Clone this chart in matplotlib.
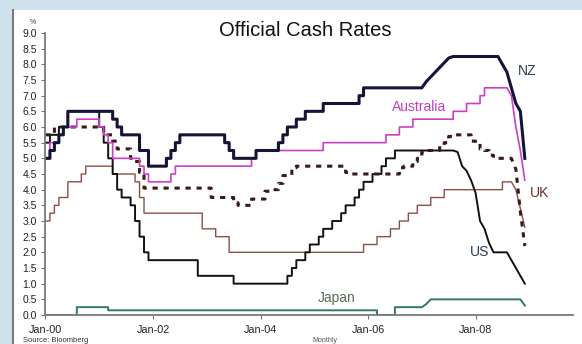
import numpy as np
import pandas as pd
import matplotlib
matplotlib.use('Agg')
import matplotlib.pyplot as plt
from matplotlib.patches import Rectangle
from matplotlib.lines import Line2D

plt.rcParams['font.family'] = ['Liberation Sans', 'DejaVu Sans']

# month index 0 = Jan 2000, data runs to Dec 2008 (monthly)
n_months = 108
tick_months = [0, 24, 48, 72, 96]
tick_labels = ['Jan-00', 'Jan-02', 'Jan-04', 'Jan-06', 'Jan-08']

# rate changes: month index -> rate (%)
nz_m = [0, 1, 2, 3, 4, 5, 14, 15, 16, 17, 21, 23, 27, 28, 29, 30, 40, 41, 42,
        47, 52, 53, 54, 56, 58, 62, 70, 71, 85, 86, 87, 88, 89, 90, 91,
        102, 103, 104, 105, 106, 107]
nz_r = [5.0, 5.25, 5.5, 5.75, 6.0, 6.5, 6.5, 6.25, 6.0, 5.75, 5.25, 4.75, 5.0, 5.25, 5.5, 5.75, 5.5, 5.25, 5.0,
        5.25, 5.5, 5.75, 6.0, 6.25, 6.5, 6.75, 7.0, 7.25, 7.45, 7.6, 7.75, 7.9, 8.05, 8.2, 8.25,
        8.0, 7.75, 7.25, 6.75, 6.5, 5.0]

au_m = [0, 1, 3, 4, 7, 12, 13, 14, 15, 21, 22, 23, 28, 29, 46, 47, 62, 76, 79, 82,
        91, 94, 97, 98, 104, 105, 106, 107]
au_r = [5.0, 5.5, 5.75, 6.0, 6.25, 6.0, 5.75, 5.5, 5.0, 4.75, 4.5, 4.25, 4.5, 4.75, 5.0, 5.25, 5.5, 5.75, 6.0, 6.25,
        6.5, 6.75, 7.0, 7.25, 7.0, 6.0, 5.25, 4.3]

us_m = [0, 1, 3, 5, 12, 13, 14, 15, 16, 17, 19, 20, 21, 22, 23, 34, 42,
        54, 55, 56, 58, 59, 61, 62, 64, 66, 67, 69, 70, 71, 73, 75, 76, 78,
        92, 93, 94, 95, 96, 97, 98, 99, 100, 104, 105, 106, 107]
us_r = [5.5, 5.75, 6.0, 6.5, 6.0, 5.5, 5.0, 4.5, 4.0, 3.75, 3.5, 3.0, 2.5, 2.0, 1.75, 1.25, 1.0,
        1.25, 1.5, 1.75, 2.0, 2.25, 2.5, 2.75, 3.0, 3.25, 3.5, 3.75, 4.0, 4.25, 4.5, 4.75, 5.0, 5.25,
        5.2, 4.75, 4.6, 4.3, 3.9, 3.0, 2.75, 2.3, 2.0, 1.75, 1.5, 1.25, 1.0]

uk_m = [0, 2, 13, 15, 16, 19, 20, 21, 22, 37, 42, 43, 46, 49, 50, 52, 53, 55, 56,
        67, 68, 79, 80, 82, 83, 84, 85, 88, 89, 90, 91, 95, 96, 97, 98, 99, 100,
        105, 106, 107]
uk_r = [5.75, 6.0, 5.75, 5.55, 5.3, 5.0, 4.9, 4.55, 4.05, 3.75, 3.58, 3.5, 3.7, 3.95, 4.0, 4.2, 4.45, 4.7, 4.75,
        4.55, 4.5, 4.7, 4.75, 4.9, 5.0, 5.2, 5.25, 5.4, 5.5, 5.7, 5.75, 5.55, 5.5, 5.3, 5.25, 5.1, 5.0,
        4.65, 3.3, 2.2]

eu_m = [0, 1, 2, 3, 5, 8, 9, 15, 20, 21, 22, 35, 38, 41, 71, 74, 77, 79, 81, 83, 86, 89,
        102, 105, 106, 107]
eu_r = [3.0, 3.25, 3.5, 3.75, 4.25, 4.5, 4.75, 4.5, 4.25, 3.75, 3.25, 2.75, 2.5, 2.0, 2.25, 2.5, 2.75, 3.0, 3.25, 3.5, 3.75, 4.0,
        4.25, 4.0, 3.4, 2.8]

jp_m = [0, 7, 14, 74, 78, 85, 86, 106, 107]
jp_r = [0.0, 0.25, 0.15, 0.0, 0.25, 0.35, 0.5, 0.5, 0.3]

# stretches (start, end month) that the chart draws as sloping lines, not steps
nz_smooth = [(84, 91), (101, 107)]
au_smooth = [(103, 107)]
us_smooth = [(91, 101), (103, 107)]
uk_smooth = [(103, 107)]
eu_smooth = [(103, 107)]
jp_smooth = [(84, 86), (105, 107)]


def monthly(months, rates):
    # hold each rate until the next change
    s = pd.Series(rates, index=months).reindex(range(n_months)).ffill()
    return s.values


def stairs(months, rates, smooth):
    y = monthly(months, rates)
    xs, ys = [0], [y[0]]
    for m in range(1, n_months):
        if not any(a < m <= b for a, b in smooth):
            xs.append(m)
            ys.append(y[m - 1])
        xs.append(m)
        ys.append(y[m])
    return xs, ys


fig = plt.figure(figsize=(5.82, 3.44), dpi=100, facecolor='#cfe1eb')
fig.add_artist(Rectangle((12 / 582, 0), 1, 1 - 10 / 344, transform=fig.transFigure,
                         facecolor='white', edgecolor='none', zorder=0))
fig.add_artist(Line2D([13 / 582, 13 / 582], [0, 1 - 10 / 344], transform=fig.transFigure,
                      color='#7a7a7a', lw=1.5))

ax = fig.add_axes([45 / 582, 29 / 344, 528 / 582, 282 / 344])
ax.set_facecolor('white')

ax.plot(*stairs(jp_m, jp_r, jp_smooth), color='#2f7a66', lw=1.4)
ax.plot(*stairs(eu_m, eu_r, eu_smooth), color='#8a5040', lw=1.0)
ax.plot(*stairs(us_m, us_r, us_smooth), color='#111111', lw=1.4)
ax.plot(*stairs(uk_m, uk_r, uk_smooth), color='#3b1a1a', lw=2.2, linestyle=(0, (1.7, 1.9)))
ax.plot(*stairs(au_m, au_r, au_smooth), color='#cc3fc6', lw=1.2)
ax.plot(*stairs(nz_m, nz_r, nz_smooth), color='#141438', lw=2.2)

ax.text(107.4, 7.8, 'NZ', color='#2a3a55', fontsize=10, ha='center', va='center')
ax.text(83.5, 6.63, 'Australia', color='#c040c0', fontsize=10, ha='center', va='center')
ax.text(110.3, 3.88, 'UK', color='#6a2a2a', fontsize=10, ha='center', va='center')
ax.text(96.8, 2.02, 'US', color='#2a3a55', fontsize=10, ha='center', va='center')
ax.text(65.1, 0.55, 'Japan', color='#5a6e55', fontsize=10, ha='center', va='center')

ax.set_xlim(-0.1, 117.75)
ax.set_ylim(0, 9)
ax.set_yticks(np.arange(0, 9.01, 0.5))
ax.set_yticklabels(['%.1f' % v for v in np.arange(0, 9.01, 0.5)])
ax.set_xticks(tick_months)
ax.set_xticklabels(tick_labels)
ax.tick_params(axis='y', length=3, width=0.8, color='#707070', pad=3, labelsize=7.5, labelcolor='#222222')
ax.tick_params(axis='x', length=3, width=0.8, color='#707070', pad=4.5, labelsize=7.8, labelcolor='#222222')
for side in ['top', 'right']:
    ax.spines[side].set_visible(False)
for side in ['left', 'bottom']:
    ax.spines[side].set_color('#7a7a7a')
    ax.spines[side].set_linewidth(1.3)

fig.text(305 / 582, 1 - 31 / 344, 'Official Cash Rates', fontsize=14.5, ha='center', va='center', color='#111111')
fig.text(32.5 / 582, 1 - 22.5 / 344, '%', fontsize=5, ha='center', va='center', color='#5a3a20')
fig.text(23 / 582, 1 - 337 / 344, 'Source: Bloomberg', fontsize=5.5, ha='left', va='top', color='#333333')
fig.text(325 / 582, 1 - 340 / 344, 'Monthly', fontsize=5, ha='center', va='center', color='#555555')

fig.savefig('out.png', dpi=100, facecolor=fig.get_facecolor())
